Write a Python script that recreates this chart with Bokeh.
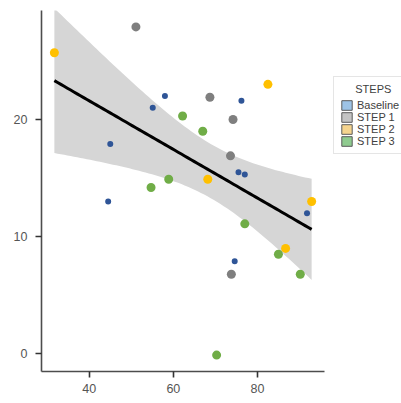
import numpy as np
from bokeh.plotting import figure
from bokeh.layouts import row
from bokeh.models import ColumnDataSource, FixedTicker, Legend, LegendItem, Range1d
from bokeh.embed import file_html
from bokeh.resources import INLINE

# ---- data ----
steps = ["Baseline", "STEP 1", "STEP 2", "STEP 3"]
baseline_x = [44.5, 45.0, 55.1, 58.0, 76.2, 75.5, 77.0, 74.6, 91.8]
baseline_y = [13.0, 17.9, 21.0, 22.0, 21.6, 15.5, 15.3, 7.9, 12.0]
step1_x = [51.1, 68.7, 74.2, 73.6, 73.8]
step1_y = [27.9, 21.9, 20.0, 16.9, 6.8]
step2_x = [31.7, 68.2, 82.5, 92.9, 86.7]
step2_y = [25.7, 14.9, 23.0, 13.0, 9.0]
step3_x = [62.2, 67.0, 58.9, 54.7, 77.0, 85.0, 90.2, 70.3]
step3_y = [20.3, 19.0, 14.9, 14.2, 11.1, 8.5, 6.8, -0.1]
x_ticks = [40, 60, 80]
y_ticks = [0, 10, 20]

point_colors = ["#2F5597", "#7F7F7F", "#FFC000", "#70AD47"]
key_colors = ["#9DC3E6", "#C4C4C4", "#F5D48E", "#8FCB8F"]
point_sizes = [6, 9, 9, 9]

# ---- linear fit with 95% confidence band (like geom_smooth(method="lm")) ----
all_x = np.array(baseline_x + step1_x + step2_x + step3_x)
all_y = np.array(baseline_y + step1_y + step2_y + step3_y)
n = len(all_x)
xbar, ybar = all_x.mean(), all_y.mean()
sxx = ((all_x - xbar) ** 2).sum()
slope = ((all_x - xbar) * (all_y - ybar)).sum() / sxx
icpt = ybar - slope * xbar
resid = all_y - (icpt + slope * all_x)
s = np.sqrt((resid ** 2).sum() / (n - 2))
t_crit = 2.0595  # t(0.975, df=25)
gx = np.linspace(all_x.min(), all_x.max(), 80)
gfit = icpt + slope * gx
se = s * np.sqrt(1.0 / n + (gx - xbar) ** 2 / sxx)
glo = gfit - t_crit * se
ghi = gfit + t_crit * se

p = figure(width=333, height=403, output_backend="svg", toolbar_location=None,
           x_range=Range1d(28.64, 95.96), y_range=Range1d(-1.5, 29.3),
           min_border_left=41, min_border_right=9, min_border_top=10, min_border_bottom=32)
p.outline_line_color = None
p.xgrid.visible = False
p.ygrid.visible = False
p.background_fill_color = "white"
p.border_fill_color = "white"

# ribbon + line
p.varea(x=gx, y1=glo, y2=ghi, fill_color="#D6D6D6", fill_alpha=1.0)
p.line(gx, gfit, line_color="black", line_width=3)

xs = [baseline_x, step1_x, step2_x, step3_x]
ys = [baseline_y, step1_y, step2_y, step3_y]
for i in range(4):
    src = ColumnDataSource(dict(x=xs[i], y=ys[i]))
    p.scatter("x", "y", source=src, size=point_sizes[i], fill_color=point_colors[i],
              line_color=None)

for ax in (p.xaxis, p.yaxis):
    ax.axis_line_color = "#4D4D4D"
    ax.axis_line_width = 1.6
    ax.major_tick_line_color = "#333333"
    ax.major_tick_line_width = 1.6
    ax.major_tick_out = 6
    ax.major_tick_in = 0
    ax.minor_tick_line_color = None
    ax.major_label_text_font = "Liberation Sans"
    ax.major_label_text_font_size = "12.5px"
    ax.major_label_text_color = "#555555"
p.xaxis.ticker = FixedTicker(ticks=x_ticks)
p.yaxis.ticker = FixedTicker(ticks=y_ticks)
p.xaxis.major_label_standoff = 6
p.yaxis.major_label_standoff = 8

# ---- legend panel ----
pl = figure(width=68, height=403, output_backend="svg", toolbar_location=None,
            x_range=Range1d(0, 1), y_range=Range1d(0, 1),
            x_axis_location=None, y_axis_location=None,
            min_border_left=0, min_border_right=0, min_border_top=0, min_border_bottom=0)
pl.outline_line_color = None
pl.xgrid.visible = False
pl.ygrid.visible = False
pl.border_fill_color = "white"

items = []
for i, name in enumerate(steps):
    # key-only renderer: a single quad placed outside the (empty) legend panel's range
    r = pl.quad(left=[5], right=[6], top=[6], bottom=[5], fill_color=key_colors[i],
                line_color="#5A5A5A", line_width=1)
    items.append(LegendItem(label=name, renderers=[r]))

legend = Legend(items=items, location=(0, 217), title="     STEPS",
                title_text_font="Liberation Sans", title_text_font_size="11px",
                title_text_font_style="normal",
                title_text_color="#404040", title_standoff=4,
                label_text_font="Liberation Sans", label_text_font_size="11px",
                label_text_color="#404040", label_standoff=4, label_height=12,
                glyph_width=13, glyph_height=12, spacing=0,
                padding=6, margin=0,
                border_line_color="#CCCCCC", border_line_width=1,
                background_fill_color="white", background_fill_alpha=1.0)
pl.add_layout(legend, "center")

layout = row(p, pl, spacing=0)
open("out.html", "w").write(file_html(layout, INLINE))
